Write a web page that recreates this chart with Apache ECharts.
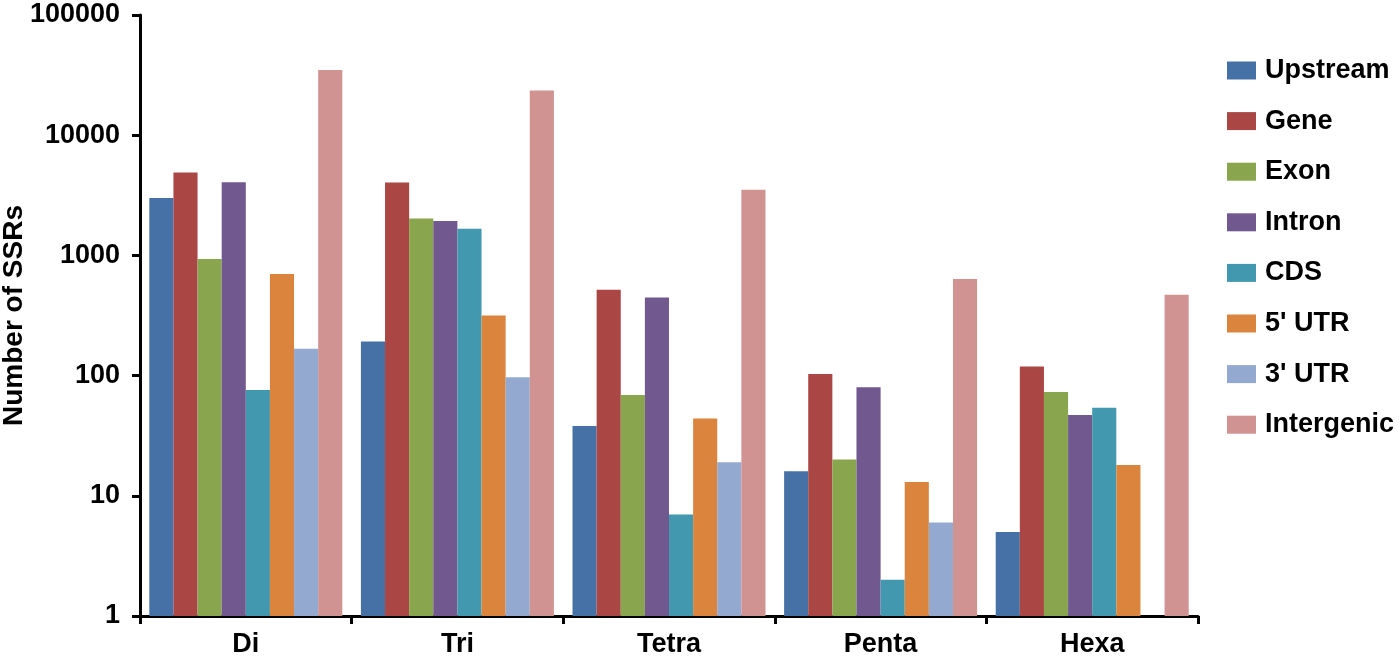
<!DOCTYPE html>
<html>
<head>
    <meta charset="utf-8">
    <title>SSR distribution</title>
    <script src="https://cdn.jsdelivr.net/npm/echarts@6/dist/echarts.min.js"></script>
    <style>
        html, body { margin: 0; padding: 0; background: #fff; }
    </style>
</head>
<body>
    <div id="main" style="width: 1400px;height:657px;"></div>
    <script type="text/javascript">
        // repeat motif types
        var categories = ['Di', 'Tri', 'Tetra', 'Penta', 'Hexa'];

        // number of SSRs per genomic region
        var upstream   = [3000, 192, 38, 16, 5];
        var gene       = [4900, 4050, 518, 103, 119];
        var exon       = [933, 2030, 69, 20, 73];
        var intron     = [4060, 1935, 447, 80, 47];
        var cds        = [76, 1670, 7, 2, 54];
        var utr5       = [700, 316, 44, 13, 18];
        var utr3       = [167, 97, 19, 6, '-'];
        var intergenic = [34800, 23600, 3510, 636, 470];

        var seriesNames = ['Upstream', 'Gene', 'Exon', 'Intron', 'CDS', "5' UTR", "3' UTR", 'Intergenic'];
        var seriesData = [upstream, gene, exon, intron, cds, utr5, utr3, intergenic];
        var colors = ['#4571A7', '#AA4644', '#89A54E', '#71588F', '#4198AF', '#DB843D', '#93A9CF', '#D19392'];

        var font = 'Liberation Sans, Arial, sans-serif';

        var myChart = echarts.init(document.getElementById('main'));

        var series = [];
        for (var i = 0; i < seriesNames.length; i++) {
            series.push({
                name: seriesNames[i],
                type: 'bar',
                data: seriesData[i],
                barGap: 0,
                barCategoryGap: '8.8%',
                itemStyle: { color: colors[i] }
            });
        }

        var option = {
            backgroundColor: '#fff',
            animation: false,
            color: colors,
            grid: {
                left: 140,
                right: 202,
                top: 15,
                bottom: 41,
                containLabel: false,
                outerBoundsMode: 'none'
            },
            legend: {
                orient: 'vertical',
                left: 1227,
                top: 57,
                padding: 0,
                icon: 'rect',
                itemWidth: 29,
                itemHeight: 18,
                itemGap: 23.6,
                data: seriesNames,
                textStyle: {
                    fontFamily: font,
                    fontWeight: 'bold',
                    fontSize: 27,
                    lineHeight: 27,
                    color: '#000',
                    padding: [0, 0, 0, 4]
                }
            },
            xAxis: {
                type: 'category',
                data: categories,
                axisLine: { lineStyle: { color: '#000', width: 3 } },
                axisTick: { show: true, length: 8, lineStyle: { color: '#000', width: 3 } },
                axisLabel: {
                    margin: 15,
                    fontFamily: font,
                    fontWeight: 'bold',
                    fontSize: 27,
                    color: '#000'
                }
            },
            yAxis: {
                type: 'log',
                logBase: 10,
                min: 1,
                max: 100000,
                name: 'Number of SSRs',
                nameLocation: 'middle',
                nameGap: 112,
                nameMoveOverlap: false,
                nameTextStyle: {
                    fontFamily: font,
                    fontWeight: 'bold',
                    fontSize: 28,
                    color: '#000'
                },
                axisLine: { show: true, lineStyle: { color: '#000', width: 3 } },
                axisTick: { show: true, length: 8, lineStyle: { color: '#000', width: 3 } },
                splitLine: { show: false },
                axisLabel: {
                    margin: 20,
                    fontFamily: font,
                    fontWeight: 'bold',
                    fontSize: 27,
                    color: '#000',
                    formatter: function (v) { return String(Math.round(v)); }
                }
            },
            series: series
        };

        myChart.setOption(option);
    </script>
</body>
</html>
